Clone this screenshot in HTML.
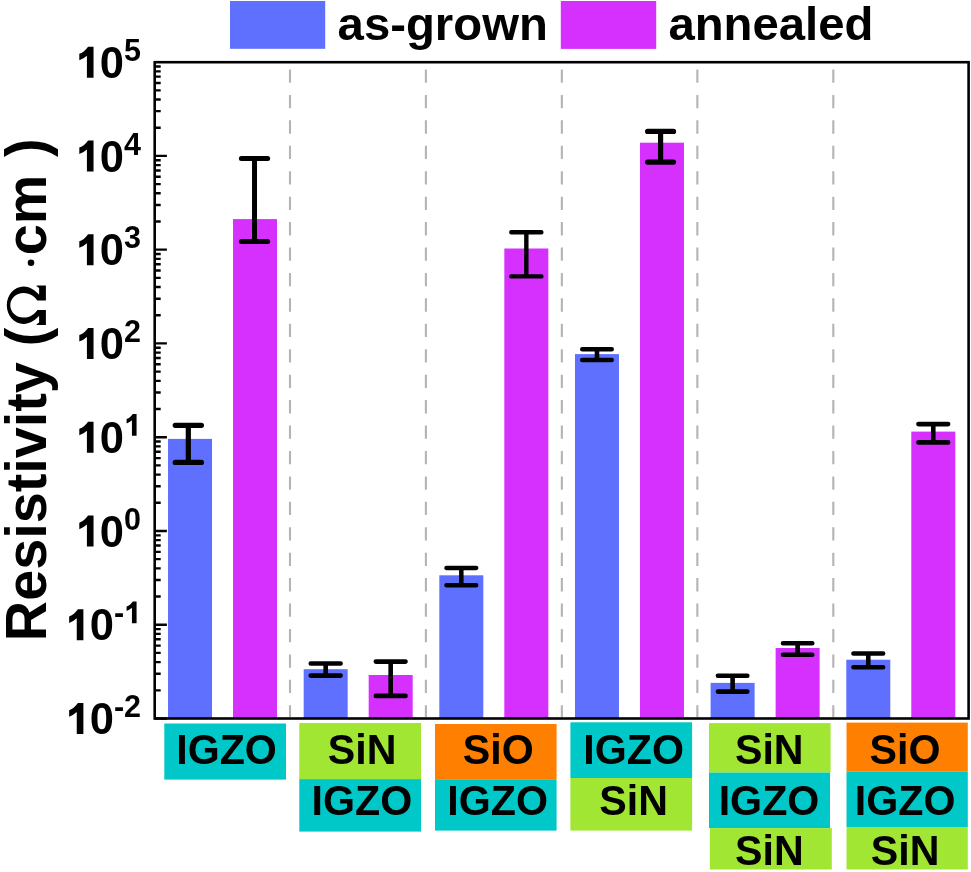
<!DOCTYPE html>
<html><head><meta charset="utf-8"><style>
html,body{margin:0;padding:0;background:#fff;}
body{width:971px;height:872px;position:relative;overflow:hidden;font-family:"Liberation Sans", sans-serif;}
</style></head><body>
<svg width="971" height="872" viewBox="0 0 971 872" style="position:absolute;left:0;top:0">
<g style="opacity:0.999" font-family='"Liberation Sans", sans-serif' font-weight="bold">
<rect x="230" y="1" width="95.2" height="47.8" fill="#5f70ff"/>
<rect x="560.8" y="1" width="95.4" height="47.9" fill="#d630ff"/>
<text transform="translate(337.61,39.6) scale(1,0.975)" font-size="47.3">as-grown</text>
<text transform="translate(668.41,39.6) scale(1,0.975)" font-size="47.3">annealed</text>
<line x1="290.00" y1="69.5" x2="290.00" y2="717" stroke="#b4b4b4" stroke-width="2.1" stroke-dasharray="13.3 12.13"/>
<line x1="425.90" y1="69.5" x2="425.90" y2="717" stroke="#b4b4b4" stroke-width="2.1" stroke-dasharray="13.3 12.13"/>
<line x1="561.85" y1="69.5" x2="561.85" y2="717" stroke="#b4b4b4" stroke-width="2.1" stroke-dasharray="13.3 12.13"/>
<line x1="697.35" y1="69.5" x2="697.35" y2="717" stroke="#b4b4b4" stroke-width="2.1" stroke-dasharray="13.3 12.13"/>
<line x1="833.30" y1="69.5" x2="833.30" y2="717" stroke="#b4b4b4" stroke-width="2.1" stroke-dasharray="13.3 12.13"/>
<rect x="168.02" y="438.90" width="44" height="279.60" fill="#5f70ff"/>
<path d="M175.22 425.30H201.42M175.22 462.40H201.42M188.32 425.30V462.40" stroke="#000" stroke-width="5.2" stroke-linecap="round" fill="none"/>
<rect x="233.02" y="219.10" width="44" height="499.40" fill="#d630ff"/>
<path d="M241.37 158.60H267.67M241.37 241.50H267.67M254.52 158.60V241.50" stroke="#000" stroke-width="5.0" stroke-linecap="round" fill="none"/>
<rect x="303.68" y="669.20" width="44" height="49.30" fill="#5f70ff"/>
<path d="M310.73 663.50H340.62M310.73 675.60H340.62M325.68 663.50V675.60" stroke="#000" stroke-width="4.6" stroke-linecap="round" fill="none"/>
<rect x="368.68" y="675.00" width="44" height="43.50" fill="#d630ff"/>
<path d="M375.82 661.60H405.53M375.82 695.90H405.53M390.68 661.60V695.90" stroke="#000" stroke-width="4.6" stroke-linecap="round" fill="none"/>
<rect x="439.32" y="575.30" width="44" height="143.20" fill="#5f70ff"/>
<path d="M446.47 567.90H476.18M446.47 585.30H476.18M461.32 567.90V585.30" stroke="#000" stroke-width="4.5" stroke-linecap="round" fill="none"/>
<rect x="504.33" y="248.50" width="44" height="470.00" fill="#d630ff"/>
<path d="M511.28 232.20H541.38M511.28 276.40H541.38M526.33 232.20V276.40" stroke="#000" stroke-width="4.4" stroke-linecap="round" fill="none"/>
<rect x="574.98" y="354.10" width="44" height="364.40" fill="#5f70ff"/>
<path d="M582.27 349.20H611.68M582.27 360.00H611.68M596.98 349.20V360.00" stroke="#000" stroke-width="4.6" stroke-linecap="round" fill="none"/>
<rect x="639.98" y="142.70" width="44" height="575.80" fill="#d630ff"/>
<path d="M647.62 131.40H673.53M647.62 162.10H673.53M660.58 131.40V162.10" stroke="#000" stroke-width="5.2" stroke-linecap="round" fill="none"/>
<rect x="710.62" y="682.90" width="44" height="35.60" fill="#5f70ff"/>
<path d="M717.92 675.80H747.33M717.92 691.60H747.33M732.62 675.80V691.60" stroke="#000" stroke-width="4.6" stroke-linecap="round" fill="none"/>
<rect x="775.62" y="648.00" width="44" height="70.50" fill="#d630ff"/>
<path d="M782.98 643.30H812.27M782.98 654.80H812.27M797.62 643.30V654.80" stroke="#000" stroke-width="4.6" stroke-linecap="round" fill="none"/>
<rect x="846.28" y="659.70" width="44" height="58.80" fill="#5f70ff"/>
<path d="M853.43 653.50H883.13M853.43 667.20H883.13M868.28 653.50V667.20" stroke="#000" stroke-width="4.6" stroke-linecap="round" fill="none"/>
<rect x="911.28" y="431.60" width="44" height="286.90" fill="#d630ff"/>
<path d="M918.43 424.10H948.13M918.43 442.40H948.13M933.28 424.10V442.40" stroke="#000" stroke-width="4.6" stroke-linecap="round" fill="none"/>
<path d="M154.70 718.50H166.90M154.70 690.28H160.70M154.70 673.77H160.70M154.70 662.05H160.70M154.70 652.97H160.70M154.70 645.54H160.70M154.70 639.27H160.70M154.70 633.83H160.70M154.70 629.03H160.70M154.70 624.74H166.90M154.70 596.52H160.70M154.70 580.01H160.70M154.70 568.30H160.70M154.70 559.21H160.70M154.70 551.79H160.70M154.70 545.51H160.70M154.70 540.07H160.70M154.70 535.28H160.70M154.70 530.99H166.90M154.70 502.76H160.70M154.70 486.25H160.70M154.70 474.54H160.70M154.70 465.45H160.70M154.70 458.03H160.70M154.70 451.75H160.70M154.70 446.31H160.70M154.70 441.52H160.70M154.70 437.23H166.90M154.70 409.00H160.70M154.70 392.50H160.70M154.70 380.78H160.70M154.70 371.70H160.70M154.70 364.27H160.70M154.70 357.99H160.70M154.70 352.56H160.70M154.70 347.76H160.70M154.70 343.47H166.90M154.70 315.25H160.70M154.70 298.74H160.70M154.70 287.02H160.70M154.70 277.94H160.70M154.70 270.51H160.70M154.70 264.24H160.70M154.70 258.80H160.70M154.70 254.00H160.70M154.70 249.71H166.90M154.70 221.49H160.70M154.70 204.98H160.70M154.70 193.27H160.70M154.70 184.18H160.70M154.70 176.76H160.70M154.70 170.48H160.70M154.70 165.04H160.70M154.70 160.25H160.70M154.70 155.96H166.90M154.70 127.73H160.70M154.70 111.22H160.70M154.70 99.51H160.70M154.70 90.42H160.70M154.70 83.00H160.70M154.70 76.72H160.70M154.70 71.29H160.70M154.70 66.49H160.70" stroke="#000" stroke-width="2.3" fill="none"/>
<rect x="154.7" y="62.2" width="813.90" height="656.30" fill="none" stroke="#000" stroke-width="2.6"/>
<path d="M842 0H530V1040Q395 912 172 822V1128Q300 1170 395 1255Q495 1345 585 1466H842Z" transform="translate(65.50,734.10) scale(0.02124,-0.02124)"/>
<text x="89.69" y="734.10" font-size="43.5">0</text>
<text x="113.88" y="717.10" font-size="30.5">-</text>
<text x="124.04" y="717.10" font-size="30.5">2</text>
<path d="M842 0H530V1040Q395 912 172 822V1128Q300 1170 395 1255Q495 1345 585 1466H842Z" transform="translate(65.50,640.34) scale(0.02124,-0.02124)"/>
<text x="89.69" y="640.34" font-size="43.5">0</text>
<text x="113.88" y="623.34" font-size="30.5">-</text>
<path d="M842 0H530V1040Q395 912 172 822V1128Q300 1170 395 1255Q495 1345 585 1466H842Z" transform="translate(124.04,623.34) scale(0.01489,-0.01489)"/>
<path d="M842 0H530V1040Q395 912 172 822V1128Q300 1170 395 1255Q495 1345 585 1466H842Z" transform="translate(75.65,546.59) scale(0.02124,-0.02124)"/>
<text x="99.84" y="546.59" font-size="43.5">0</text>
<text x="124.04" y="529.59" font-size="30.5">0</text>
<path d="M842 0H530V1040Q395 912 172 822V1128Q300 1170 395 1255Q495 1345 585 1466H842Z" transform="translate(75.65,452.83) scale(0.02124,-0.02124)"/>
<text x="99.84" y="452.83" font-size="43.5">0</text>
<path d="M842 0H530V1040Q395 912 172 822V1128Q300 1170 395 1255Q495 1345 585 1466H842Z" transform="translate(124.04,435.83) scale(0.01489,-0.01489)"/>
<path d="M842 0H530V1040Q395 912 172 822V1128Q300 1170 395 1255Q495 1345 585 1466H842Z" transform="translate(75.65,359.07) scale(0.02124,-0.02124)"/>
<text x="99.84" y="359.07" font-size="43.5">0</text>
<text x="124.04" y="342.07" font-size="30.5">2</text>
<path d="M842 0H530V1040Q395 912 172 822V1128Q300 1170 395 1255Q495 1345 585 1466H842Z" transform="translate(75.65,265.31) scale(0.02124,-0.02124)"/>
<text x="99.84" y="265.31" font-size="43.5">0</text>
<text x="124.04" y="248.31" font-size="30.5">3</text>
<path d="M842 0H530V1040Q395 912 172 822V1128Q300 1170 395 1255Q495 1345 585 1466H842Z" transform="translate(75.65,171.56) scale(0.02124,-0.02124)"/>
<text x="99.84" y="171.56" font-size="43.5">0</text>
<text x="124.04" y="154.56" font-size="30.5">4</text>
<path d="M842 0H530V1040Q395 912 172 822V1128Q300 1170 395 1255Q495 1345 585 1466H842Z" transform="translate(75.65,77.80) scale(0.02124,-0.02124)"/>
<text x="99.84" y="77.80" font-size="43.5">0</text>
<text x="124.04" y="60.80" font-size="30.5">5</text>
<text transform="translate(45.9,641.13) rotate(-90)" font-size="57.5" textLength="279.01" lengthAdjust="spacingAndGlyphs">Resistivity</text>
<text transform="translate(45.9,346.28) rotate(-90)" font-size="57.5" textLength="18.57" lengthAdjust="spacingAndGlyphs">(</text>
<path d="M24.6 0L39.8 0L39.8 9.3L39.0 9.3L37.3 6.8L30.5 6.8C33.5 9.3 38.7 15.5 38.7 22.4C38.7 31.62 30.3 39.1 19.95 39.1C9.6 39.1 1.2 31.62 1.2 22.4C1.2 15.5 6.4 9.3 9.4 6.8L2.6 6.8L0.9 9.3L0.1 9.3L0.1 0L15.3 0L15.3 8.5C12 10.5 7.6 15.5 7.6 22.4C7.6 29.7 13.13 35.6 19.95 35.6C26.77 35.6 32.3 29.7 32.3 22.4C32.3 15.5 27.9 10.5 24.6 8.5Z" transform="matrix(0,-1,-1,0,45.9,325.2)"/>
<circle cx="31" cy="262.8" r="3.3" fill="#000"/>
<text transform="translate(45.9,255.28) rotate(-90)" font-size="57.5" textLength="80.61" lengthAdjust="spacingAndGlyphs">cm</text>
<text transform="translate(45.9,156.95) rotate(-90)" font-size="57.5" textLength="18.57" lengthAdjust="spacingAndGlyphs">)</text>
<rect x="164.30" y="723.50" width="121.70" height="56.10" fill="#00c8c8"/>
<rect x="299.30" y="723.00" width="121.70" height="56.10" fill="#a2e634"/>
<rect x="299.30" y="779.10" width="121.70" height="52.50" fill="#00c8c8"/>
<rect x="435.00" y="724.00" width="121.60" height="55.90" fill="#ff8000"/>
<rect x="435.00" y="779.90" width="121.60" height="50.70" fill="#00c8c8"/>
<rect x="570.40" y="722.30" width="121.70" height="55.70" fill="#00c8c8"/>
<rect x="570.40" y="778.00" width="121.70" height="52.60" fill="#a2e634"/>
<rect x="709.00" y="723.10" width="121.60" height="49.50" fill="#a2e634"/>
<rect x="709.00" y="772.60" width="121.00" height="55.50" fill="#00c8c8"/>
<rect x="709.90" y="828.10" width="121.90" height="41.40" fill="#a2e634"/>
<rect x="846.50" y="722.60" width="121.30" height="49.10" fill="#ff8000"/>
<rect x="846.50" y="771.70" width="121.30" height="55.30" fill="#00c8c8"/>
<rect x="846.50" y="827.00" width="121.30" height="42.50" fill="#a2e634"/>
<text transform="translate(226.54,764.1) scale(1,1.035)" text-anchor="middle" font-size="41.2">IGZO</text>
<text transform="translate(362.09,764.1) scale(1,1.035)" text-anchor="middle" font-size="41.2">SiN</text>
<text transform="translate(361.94,814.5) scale(1,1.035)" text-anchor="middle" font-size="41.2">IGZO</text>
<text transform="translate(498.27,764.1) scale(1,1.035)" text-anchor="middle" font-size="41.2">SiO</text>
<text transform="translate(497.64,814.5) scale(1,1.035)" text-anchor="middle" font-size="41.2">IGZO</text>
<text transform="translate(633.59,764.1) scale(1,1.035)" text-anchor="middle" font-size="41.2">IGZO</text>
<text transform="translate(633.59,814.5) scale(1,1.035)" text-anchor="middle" font-size="41.2">SiN</text>
<text transform="translate(769.24,764.1) scale(1,1.035)" text-anchor="middle" font-size="41.2">SiN</text>
<text transform="translate(768.99,814.5) scale(1,1.035)" text-anchor="middle" font-size="41.2">IGZO</text>
<text transform="translate(769.39,865.4) scale(1,1.035)" text-anchor="middle" font-size="41.2">SiN</text>
<text transform="translate(904.97,764.1) scale(1,1.035)" text-anchor="middle" font-size="41.2">SiO</text>
<text transform="translate(905.14,814.5) scale(1,1.035)" text-anchor="middle" font-size="41.2">IGZO</text>
<text transform="translate(905.04,865.4) scale(1,1.035)" text-anchor="middle" font-size="41.2">SiN</text>
</g></svg>
</body></html>
